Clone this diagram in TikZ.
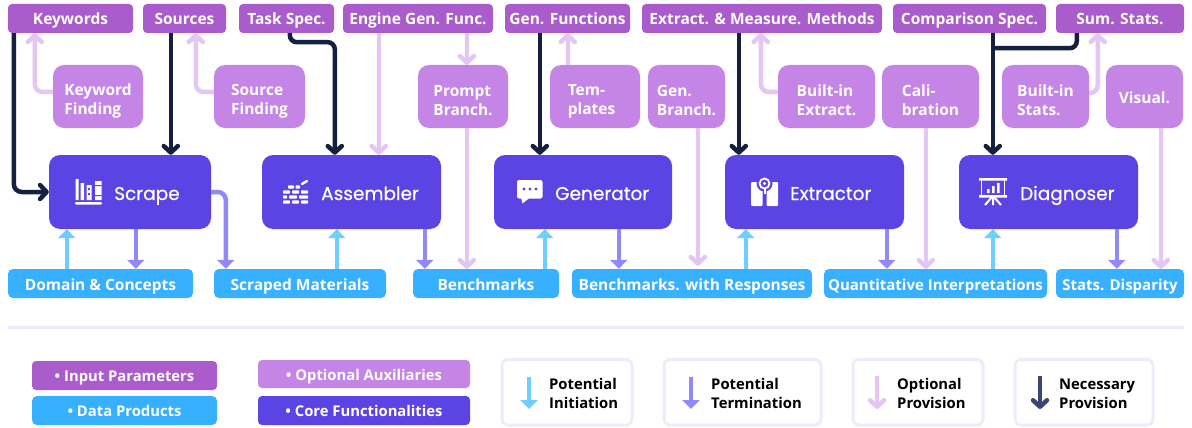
\documentclass[tikz,border=0pt]{standalone}
\usepackage{fontspec}
\setmainfont{Open Sans}
\newfontfamily\corefont[FakeBold=0.5]{Poppins}
\usetikzlibrary{arrows.meta,calc}
\definecolor{cinput}{HTML}{AA5CCD}
\definecolor{caux}{HTML}{C585E7}
\definecolor{ccore}{HTML}{5B43E4}
\definecolor{cdata}{HTML}{36B0FF}
\definecolor{cnec}{HTML}{14203F}
\definecolor{copt}{HTML}{E3C6F3}
\definecolor{cterm}{HTML}{9289F8}
\definecolor{cinit}{HTML}{6CCFFF}
\definecolor{clegnec}{HTML}{3B4576}
\definecolor{cline}{HTML}{EFEBFD}
\tikzset{
  boxbase/.style={rectangle,inner sep=0pt,text=white,font=\fontsize{15.5}{19}\selectfont\bfseries,align=left},
  oneline/.style={text height=13pt,text depth=0pt},
  inputbox/.style={boxbase,oneline,fill=cinput,rounded corners=4pt},
  auxbox/.style={boxbase,fill=caux,rounded corners=11pt},
  corebox/.style={boxbase,fill=ccore,rounded corners=11pt},
  databox/.style={boxbase,oneline,fill=cdata,rounded corners=5pt},
  legfont/.style={font=\fontsize{14.8}{18}\selectfont\bfseries,text height=12pt,text depth=0pt},
  corelabel/.style={inner sep=0pt,anchor=west,text=white,text height=14pt,text depth=0pt,font=\fontsize{18.5}{22}\selectfont\corefont},
  legbox/.style={rectangle,draw=cline,line width=3pt,fill=white,rounded corners=6pt},
  leglabel/.style={inner sep=0pt,anchor=west,align=left,text=black,font=\fontsize{14.8}{19}\selectfont\bfseries},
  necarrow/.style={draw=cnec,line width=4.5pt,rounded corners=8pt,-{Straight Barb[length=6.5pt,width=14pt,round]}},
  optarrow/.style={draw=copt,line width=4.5pt,rounded corners=8pt,-{Straight Barb[length=6.5pt,width=14pt,round]}},
  termarrow/.style={draw=cterm,line width=4.5pt,rounded corners=8pt,-{Triangle[length=9pt,width=17pt]}},
  initarrow/.style={draw=cinit,line width=4.5pt,rounded corners=8pt,-{Triangle[length=9pt,width=17pt]}},
}
% name, x1, y1, x2, y2, style, text
\newcommand{\bx}[7]{\node[#6,minimum width={(#4)-(#2)},minimum height={(#5)-(#3)}] (#1) at ({((#2)+(#4))/2},{((#3)+(#5))/2}) {#7};}
\newcommand{\twol}[2]{\rule{0pt}{20pt}#1\\#2}
\newcommand{\brick}[3]{\fill[white,rounded corners=0.8pt] (#1,#3-1.7) rectangle (#2,#3+1.7);}
\begin{document}
\begin{tikzpicture}[x=1pt,y=-1pt]
\useasboundingbox (0,0) rectangle (1192,428);
\fill[white] (0,0) rectangle (1192,428);
% input parameters
\bx{kw}{8}{4}{133}{33}{inputbox}{Keywords}
\bx{src}{143}{4}{226}{33}{inputbox}{Sources}
\bx{task}{239}{4}{334}{33}{inputbox}{Task Spec.}
\bx{eng}{343}{4}{493}{33}{inputbox}{Engine Gen. Func.}
\bx{gen}{505}{4}{630}{33}{inputbox}{Gen. Functions}
\bx{ext}{642}{4}{882}{33}{inputbox}{Extract. \& Measure. Methods}
\bx{cmp}{893}{4}{1046}{33}{inputbox}{Comparison Spec.}
\bx{sum}{1056}{4}{1184}{33}{inputbox}{Sum. Stats.}
% auxiliaries
\bx{akw}{53}{65}{143}{128}{auxbox}{\twol{Keyword}{Finding}}
\bx{asrc}{214}{65}{305}{128}{auxbox}{\twol{Source}{Finding}}
\bx{apb}{418}{65}{508}{128}{auxbox}{\twol{Prompt}{Branch.}}
\bx{atp}{550}{65}{640}{128}{auxbox}{\twol{Tem-}{plates\hspace*{7pt}}}
\bx{agb}{648}{65}{725}{128}{auxbox}{\twol{Gen.}{Branch.}}
\bx{abe}{778}{65}{875}{128}{auxbox}{\twol{Built-in}{Extract.}}
\bx{acal}{882}{65}{979}{128}{auxbox}{\twol{Cali-}{bration}}
\bx{abs}{1002}{65}{1089}{128}{auxbox}{\twol{Built-in}{Stats.}}
\bx{avis}{1106}{65}{1183}{128}{auxbox,oneline}{Visual.}
% core
\bx{scr}{49}{155}{211}{229}{corebox}{}
\bx{asm}{262}{155}{441}{229}{corebox}{}
\bx{gnr}{494}{155}{672}{229}{corebox}{}
\bx{xtr}{725}{155}{904}{229}{corebox}{}
\bx{dgn}{959}{155}{1138}{229}{corebox}{}
\node[corelabel] (lscr) at (114,193) {Scrape};
\node[corelabel] (lasm) at (321,193) {Assembler};
\node[corelabel] (lgnr) at (555,193) {Generator};
\node[corelabel] (lxtr) at (790,193) {Extractor};
\node[corelabel] (ldgn) at (1020,193) {Diagnoser};
% data
\bx{dom}{8}{269}{193}{298}{databox}{Domain \& Concepts}
\bx{scm}{214}{269}{386}{298}{databox}{Scraped Materials}
\bx{bm}{413}{269}{559}{298}{databox}{Benchmarks}
\bx{bwr}{572}{269}{812}{298}{databox}{Benchmarks. with Responses}
\bx{qi}{824}{269}{1047}{298}{databox,font=\fontsize{15}{19}\selectfont\bfseries}{Quantitative Interpretations}
\bx{sd}{1056}{269}{1184}{298}{databox,font=\fontsize{15}{19}\selectfont\bfseries}{Stats. Disparity}
% optional arrows
\draw[optarrow] ([yshift=4.5pt]akw.west) -| ([xshift=27pt]kw.south west);
\draw[optarrow] ([yshift=4.5pt]asrc.west) -| ([xshift=53pt]src.south west);
\draw[optarrow] ([xshift=36pt]eng.south west) -- ([xshift=117pt]asm.north west);
\draw[optarrow] ([xshift=124pt]eng.south west) -- ([xshift=49pt]apb.north west);
\draw[optarrow] ([xshift=49pt]apb.south west) -- ([xshift=54pt]bm.north west);
\draw[optarrow] ([xshift=18pt]atp.north west) -- ([xshift=63pt]gen.south west);
\draw[optarrow] ([xshift=50pt]agb.south west) -- ([xshift=126pt,yshift=3pt]bwr.north west);
\draw[optarrow] ([yshift=4.5pt]abe.west) -| ([xshift=119pt]ext.south west);
\draw[optarrow] ([xshift=44pt]acal.south west) -- ([xshift=102pt]qi.north west);
\draw[optarrow] ([yshift=3.5pt]abs.east) -| ([xshift=42pt]sum.south west);
\draw[optarrow] ([xshift=55pt]avis.south west) -- ([xshift=105pt]sd.north west);
% necessary arrows
\draw[necarrow] ([xshift=6pt]kw.south west) |- (scr.west);
\draw[necarrow] ([xshift=28pt]src.south west) -- ([xshift=122pt]scr.north west);
\draw[necarrow,rounded corners=7pt] ([xshift=51pt]task.south west) |- ([yshift=-9pt,xshift=96pt]task.south west) -- ([xshift=73pt]asm.north west);
\draw[necarrow] ([xshift=35pt]gen.south west) -- ([xshift=46pt]gnr.north west);
\draw[necarrow] ([xshift=97pt]ext.south west) -- ([xshift=14pt]xtr.north west);
\draw[necarrow] ([xshift=100pt]cmp.south west) -- ([xshift=34pt]dgn.north west);
\draw[cnec,line width=4.5pt,rounded corners=7pt] ([xshift=21pt]sum.south west) |- ([xshift=100pt,yshift=-15pt]cmp.south west);
% termination arrows
\draw[termarrow] ([xshift=87pt]scr.south west) -- ([xshift=128pt]dom.north west);
\draw[termarrow] (scr.east) -| ([xshift=12pt]scm.north west);
\draw[termarrow] ([xshift=163pt]asm.south west) -- ([xshift=12pt]bm.north west);
\draw[termarrow] ([xshift=125pt]gnr.south west) -- ([xshift=47pt]bwr.north west);
\draw[termarrow] ([xshift=162pt]xtr.south west) -- ([xshift=63pt]qi.north west);
\draw[termarrow] ([xshift=158pt]dgn.south west) -- ([xshift=61pt]sd.north west);
% initiation arrows
\draw[initarrow] ([xshift=59pt]dom.north west) -- ([xshift=18pt]scr.south west);
\draw[initarrow] ([xshift=123pt]scm.north west) -- ([xshift=75pt]asm.south west);
\draw[initarrow] ([xshift=132pt]bm.north west) -- ([xshift=51pt]gnr.south west);
\draw[initarrow] ([xshift=174pt]bwr.north west) -- ([xshift=21pt]xtr.south west);
\draw[initarrow] ([xshift=169pt]qi.north west) -- ([xshift=34pt]dgn.south west);
% icon: books
\fill[white] (75.5,179) rectangle (78.5,200) (80.5,183) rectangle (84,200) (86.5,185) rectangle (91.5,200) (95,181) rectangle (101.5,200);
\fill[white,rounded corners=1pt] (75,202) rectangle (102,204.5);
\fill[ccore] (95,185) rectangle (101.5,186.2) (95,195) rectangle (101.5,196.2);
\fill[ccore] (88.2,188) rectangle (89.8,190) (88.2,193) rectangle (89.8,195);
% icon: bricks
\brick{288}{294}{187}\brick{295.5}{300}{187}
\brick{283}{290}{192}\brick{292}{299}{192}\brick{301}{308}{192}
\brick{283}{287}{197}\brick{289}{297}{197}\brick{299}{308}{197}
\brick{283}{290}{202}\brick{292}{299}{202}\brick{301}{308}{202}
\draw[white,line width=2.4pt,line cap=round] (302,184) -- (307,181);
% icon: speech bubble
\fill[white,rounded corners=2pt] (517,180) rectangle (542.5,198.5);
\fill[white] (521,197.5) -- (522.5,203.5) -- (530,197.5) -- cycle;
\fill[ccore] (524,189) circle (1.6) (530,189) circle (1.6) (536,189) circle (1.6);
% icon: map with pin
\fill[white,rounded corners=1pt] (751,182) rectangle (762.5,206) (766.5,182) rectangle (778,206);
\fill[ccore] (764.5,183.5) circle (8);
\draw[white,line width=1.8pt] (764.5,183.5) circle (5);
\fill[white] (764.5,183.5) circle (1.6);
\draw[white,line width=2pt] (764.5,188) -- (764.5,194);
% icon: presentation board
\fill[white] (979,178) rectangle (1007,180.5) (979,195) rectangle (1007,197.5);
\draw[white,line width=1.8pt] (981.5,180) -- (981.5,196) (1004.5,180) -- (1004.5,196);
\fill[white] (987,189) rectangle (989.5,193) (992,186) rectangle (994.5,193) (997,183) rectangle (999.5,193);
\draw[white,line width=2pt] (993,197) -- (993,205) (992,197) -- (985,205) (994,197) -- (1001,205);
% separator
\draw[cline,line width=3pt] (8,327.5) -- (1184,327.5);
% legend
\bx{linp}{32}{361}{217}{390}{inputbox,legfont}{• Input Parameters}
\bx{ldat}{32}{396}{217}{425}{databox,legfont}{• Data Products}
\bx{laux}{258}{360}{470}{388}{inputbox,legfont,fill=caux}{• Optional Auxiliaries}
\bx{lcor}{258}{396}{470}{425}{inputbox,legfont,fill=ccore}{• Core Functionalities}
\bx{b1}{502}{359.5}{632}{425}{legbox}{}
\bx{b2}{664}{359.5}{821}{425}{legbox}{}
\bx{b3}{853}{359.5}{983}{425}{legbox}{}
\bx{b4}{1015}{359.5}{1153}{425}{legbox}{}
\node[leglabel] (t1) at (549,393.5) {Potential\\Initiation};
\node[leglabel] (t2) at (711,393.5) {Potential\\Termination};
\node[leglabel] (t3) at (897,393.5) {Optional\\Provision};
\node[leglabel] (t4) at (1059,393.5) {Necessary\\Provision};
\coordinate (a1) at (529,377); \coordinate (a1e) at (529,409);
\coordinate (a2) at (691,377); \coordinate (a2e) at (691,409);
\coordinate (a3) at (877,376); \coordinate (a3e) at (877,409);
\coordinate (a4) at (1040,376); \coordinate (a4e) at (1040,409);
\draw[initarrow] (a1) -- (a1e);
\draw[termarrow] (a2) -- (a2e);
\draw[optarrow] (a3) -- (a3e);
\draw[necarrow,draw=clegnec] (a4) -- (a4e);
\end{tikzpicture}
\end{document}
